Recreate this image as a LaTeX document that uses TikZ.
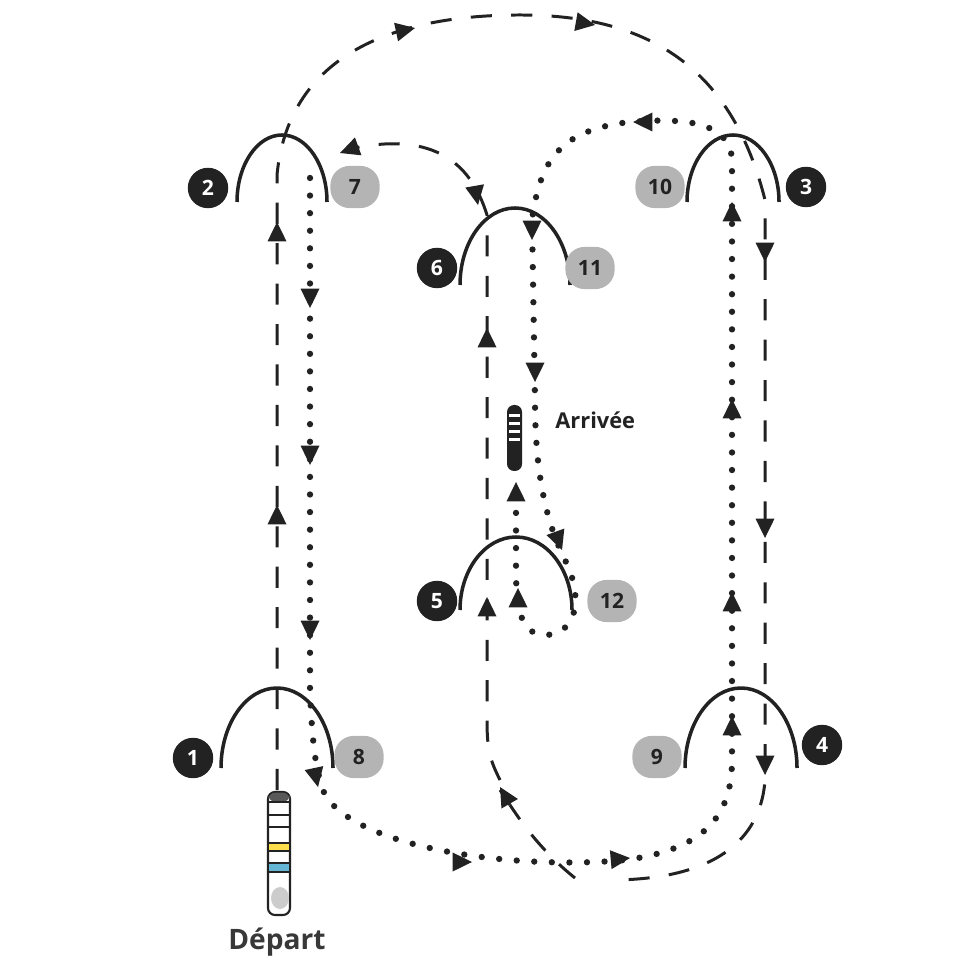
\documentclass[tikz,border=0pt]{standalone}
\usepackage{fontspec}
\setmainfont{Open Sans}
\definecolor{ink}{HTML}{222222}
\definecolor{grey}{HTML}{B4B4B4}
\begin{document}
\begin{tikzpicture}[x=0.01cm,y=-0.01cm,line join=round,
    gate/.style={ink,line width=1pt},
    dashline/.style={ink,line width=0.85pt,dash pattern=on 6pt off 5.5pt},
    dotline/.style={ink,line width=1.8pt,line cap=round,dash pattern=on 0pt off 5pt},
    num/.style={circle,fill=ink,text=white,font=\bfseries\fontsize{6}{6}\selectfont,minimum size=11.5pt,inner sep=0pt},
    gnum/.style={rounded corners=5.5pt,fill=grey,text=ink,font=\bfseries\fontsize{6}{6}\selectfont,minimum width=14pt,minimum height=12pt,inner sep=1.5pt}]

    % Fix the page to the reference frame
    \useasboundingbox (0,0) rectangle (980,980);

    % Gates: left foot, half width, height
    \draw[gate] (221,768) arc (180:360:56 and 80);
    \draw[gate] (237,202) arc (180:360:45 and 67);
    \draw[gate] (687,202) arc (180:360:46 and 67);
    \draw[gate] (685,768) arc (180:360:56 and 80);
    \draw[gate] (460,610) arc (180:360:56 and 73);
    \draw[gate] (460,285) arc (180:360:55 and 77);

    % Gate numbers
    \node[num] (n1) at (193,758) {1};
    \node[num] (n2) at (208,188) {2};
    \node[num] (n3) at (806,187) {3};
    \node[num] (n4) at (822,745) {4};
    \node[num] (n5) at (437,601) {5};
    \node[num] (n6) at (437,268) {6};
    \node[gnum] (n7) at (355,187) {7};
    \node[gnum] (n8) at (359,757) {8};
    \node[gnum] (n9) at (657,757) {9};
    \node[gnum] (n10) at (660,187) {10};
    \node[gnum] (n11) at (590,268) {11};
    \node[gnum] (n12) at (612,601) {12};

    % First lap, dashed: 1 -> 2 -> 3 -> 4 -> 5 -> 6 -> 2
    \draw[dashline] (277,790) -- (277,175) .. controls (290,40) and (420,15) .. (520,15)
        .. controls (640,15) and (730,60) .. (765,200) -- (765,780)
        .. controls (760,850) and (700,880) .. (610,880);
    \draw[dashline] (575,878) .. controls (540,850) and (520,820) .. (510,805);
    \draw[ink,line width=0.85pt] (510,805) -- (500,790);
    \draw[dashline] (500,780) .. controls (490,760) and (487,750) .. (487,720) -- (487,215);
    \draw[dashline] (487,215) .. controls (470,160) and (430,130) .. (345,150);

    % Second lap, dotted: 7 -> 8 -> 9 -> 10 -> 11 -> 12 -> finish
    \draw[dotline] (310,178) -- (310,690) .. controls (312,740) and (315,770) .. (325,795)
        .. controls (360,850) and (520,870) .. (625,860)
        .. controls (700,850) and (732,820) .. (732,760) -- (732,160)
        .. controls (730,120) and (680,118) .. (630,122)
        .. controls (560,130) and (540,160) .. (532,220) -- (535,400)
        .. controls (535,470) and (545,520) .. (565,560)
        .. controls (585,600) and (575,635) .. (545,635)
        .. controls (518,635) and (516,600) .. (516,570) -- (516,485);

    % Arrow tips along the routes: tip point and angle
    \foreach \x/\y/\a in {277/222/90, 277/505/90, 415/28/12, 595/25/-10,
        765/262/-90, 765/538/-90, 765/775/-90, 500/787/120, 487/328/90, 487/597/90,
        340/153/-160, 478/205/-80,
        310/308/-90, 310/465/-90, 310/640/-90, 318/787/-78,
        472/862/0, 630/858/5, 732/716/90, 732/592/90, 732/399/90, 732/202/90,
        633/122/180, 532/240/-90, 535/382/-90, 562/550/-70, 518/588/90, 516/482/90}
        \fill[ink,shift={(\x,\y)},rotate=\a] (0,0) -- (-5.5pt,2.7pt) -- (-5.5pt,-2.7pt) -- cycle;

    % Finish marker
    \fill[ink, rounded corners=2pt] (507,405) rectangle (522,471);
    \foreach \y in {414,422,430,438}
        \fill[white] (509,\y) rectangle (520,\y+3.5);
    \node[font=\bfseries\fontsize{6.2}{6}\selectfont,text=ink,anchor=west] (arr) at (543,420) {Arrivée};

    % Start marker
    \draw[ink,line width=0.6pt,rounded corners=2pt,fill=white] (268,792) rectangle (290,915);
    \fill[ink!75,rounded corners=2pt] (268.5,792.5) rectangle (289.5,802);
    \fill[yellow!70!orange!70] (269,843) rectangle (289,851);
    \fill[cyan!55!teal!70] (269,863) rectangle (289,872);
    \foreach \y in {802,815,827,843,851,863,872}
        \draw[ink,line width=0.5pt] (268,\y) -- (290,\y);
    \fill[gray!40] (280,898) ellipse (9 and 11);
    \node[font=\bfseries\fontsize{8}{8}\selectfont,text=ink!90] (dep) at (277,942) {Départ};

\end{tikzpicture}
\end{document}
